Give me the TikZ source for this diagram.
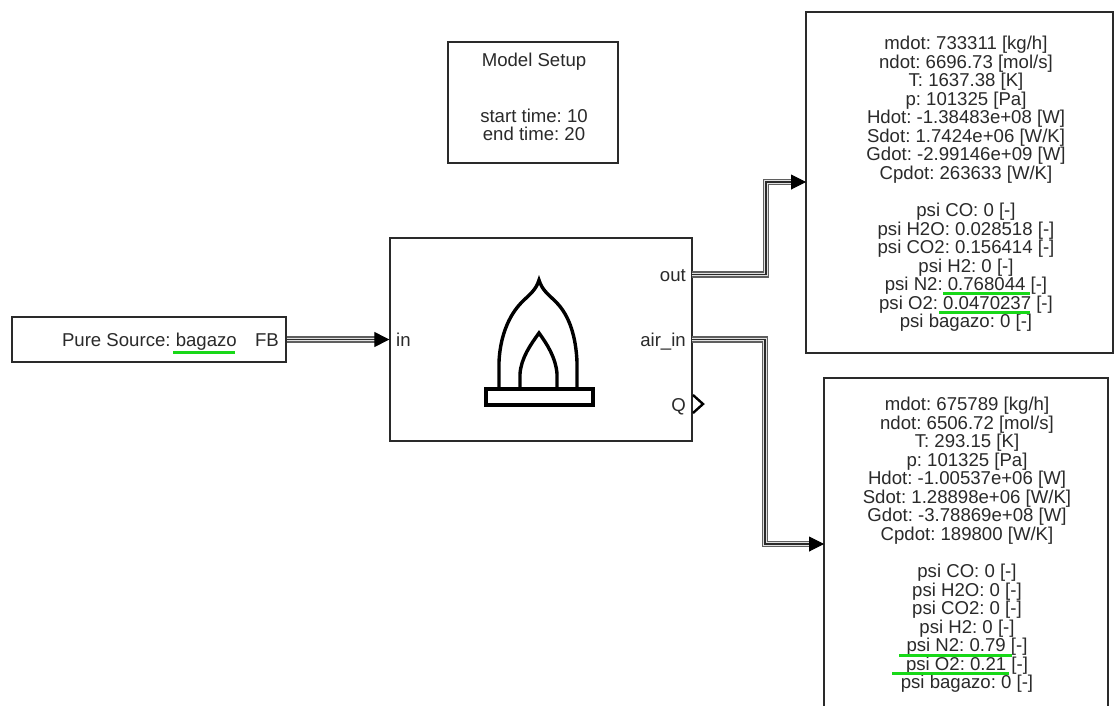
\documentclass[tikz,border=0pt]{standalone}
\usepackage{fontspec}
\setmainfont{Liberation Sans}
\usetikzlibrary{arrows.meta}
\definecolor{ink}{HTML}{2A2A2A}
\definecolor{marker}{HTML}{18D818}
\tikzset{
  x=1pt,y=-1pt,
  blockbox/.style={draw=ink,line width=1.3pt,fill=white},
  lbl/.style={text=ink,inner sep=0pt,font=\fontsize{18.6}{18.55}\selectfont\frenchspacing},
  info/.style={lbl,align=center,anchor=north},
  tripleline/.style={draw=ink!75,line width=6.4pt,line join=miter,
    postaction={draw=white!88!black,line width=3.8pt},
    postaction={draw=ink,line width=1.3pt}},
  tip/.style={-{Triangle[length=15pt,width=15pt]},draw=black,line width=1pt,shorten >=0pt},
  flame/.style={draw=black,line width=3.4pt,line join=miter,miter limit=10},
  greenmark/.style={draw=marker,line width=3pt}
}
\begin{document}
\begin{tikzpicture}
\useasboundingbox (0,0) rectangle (1114,705);
\clip (0,0) rectangle (1114,705);
% blocks
\node[blockbox,minimum width=170pt,minimum height=121pt,inner sep=0pt] (setup) at (533,102.5) {};
\node[blockbox,minimum width=302pt,minimum height=203pt,inner sep=0pt] (comb) at (541,339.5) {};
\node[blockbox,minimum width=274pt,minimum height=45pt,inner sep=0pt] (src) at (149,339.5) {};
\node[blockbox,minimum width=307pt,minimum height=341pt,inner sep=0pt] (top) at (959.5,182.5) {};
\node[blockbox,minimum width=284pt,minimum height=400pt,inner sep=0pt] (low) at (966,578) {};
% ports
\coordinate (pFB) at (src.east);
\coordinate (pIn) at (comb.west);
\coordinate (pOut) at (692,274.5);
\coordinate (pAir) at (692,339.5);
\coordinate (tTop) at (806,182);
\coordinate (tLow) at (824,544);
\coordinate (bTop) at (766,182);
\coordinate (bTopL) at (766,274.5);
\coordinate (bLow) at (765,544);
\coordinate (bLowU) at (765,339.5);
% connectors
\draw[tripleline] (pFB) -- ([xshift=-8pt]pIn);
\draw[tripleline] (pOut) -- (bTopL) -- (bTop) -- ([xshift=-8pt]tTop);
\draw[tripleline] (pAir) -- (bLowU) -- (bLow) -- ([xshift=-8pt]tLow);
\draw[tip] ([xshift=-12pt]pIn) -- (pIn);
\draw[tip] ([xshift=-12pt]tTop) -- (tTop);
\draw[tip] ([xshift=-12pt]tLow) -- (tLow);
% Q port
\coordinate (qa) at (693,395);
\coordinate (qb) at (703,404);
\coordinate (qc) at (693,413);
\draw[black,line width=2.4pt,line join=miter] (qa) -- (qb) -- (qc);
% flame icon
\draw[flame,fill=white] (486,389) rectangle (593,405);
\draw[flame] (499,389) -- (499,362) .. controls (500,338) and (508,316) .. (522,302)
  .. controls (530,294) and (536,290) .. (539,280)
  .. controls (542,290) and (548,294) .. (556,302)
  .. controls (570,316) and (576,338) .. (577,362) -- (577,389);
\draw[flame] (520,389) -- (520,374) .. controls (521,358) and (531,344) .. (539,333)
  .. controls (547,344) and (556,358) .. (557,374) -- (557,389);
% labels
\node[lbl,anchor=base east] (tSrc) at (237,346) {Pure Source: bagazo};
\node[lbl,anchor=base east] (tFB) at (279,346) {FB};
\node[lbl,anchor=base west] (tIn) at (396,346) {in};
\node[lbl,anchor=base east] (tOut) at (686,281) {out};
\node[lbl,anchor=base east] (tAir) at (686,346) {air\_in};
\node[lbl,anchor=base east] (tQ) at (686,411) {Q};
\node[lbl,anchor=base] (tSetup) at (534,66) {Model Setup};
\node[info] (tTime) at (534,108.5) {start time: 10\\end time: 20};
\node[info] (tTopInfo) at (966,36) {mdot: 733311 [kg/h]\\ndot: 6696.73 [mol/s]\\T: 1637.38 [K]\\p: 101325 [Pa]\\Hdot: -1.38483e+08 [W]\\Sdot: 1.7424e+06 [W/K]\\Gdot: -2.99146e+09 [W]\\Cpdot: 263633 [W/K]\\[18.55pt]psi CO: 0 [-]\\psi H2O: 0.028518 [-]\\psi CO2: 0.156414 [-]\\psi H2: 0 [-]\\psi N2: 0.768044 [-]\\psi O2: 0.0470237 [-]\\psi bagazo: 0 [-]};
\node[info] (tLowInfo) at (967,397) {mdot: 675789 [kg/h]\\ndot: 6506.72 [mol/s]\\T: 293.15 [K]\\p: 101325 [Pa]\\Hdot: -1.00537e+06 [W]\\Sdot: 1.28898e+06 [W/K]\\Gdot: -3.78869e+08 [W]\\Cpdot: 189800 [W/K]\\[18.55pt]psi CO: 0 [-]\\psi H2O: 0 [-]\\psi CO2: 0 [-]\\psi H2: 0 [-]\\psi N2: 0.79 [-]\\psi O2: 0.21 [-]\\psi bagazo: 0 [-]};
% green underlines
\draw[greenmark] (173,352) -- (235,352);
\draw[greenmark] (943,293) -- (1030,293);
\draw[greenmark] (939,312) -- (1030,312);
\draw[greenmark] (899,655) -- (1012,655);
\draw[greenmark] (892,673) -- (1009,673);
\end{tikzpicture}
\end{document}
